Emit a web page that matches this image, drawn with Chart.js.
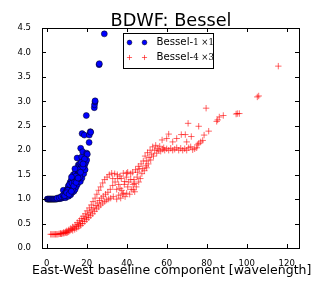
<!DOCTYPE html>
<html>
<head>
<meta charset="utf-8">
<script src="https://cdn.jsdelivr.net/npm/chart.js@4/dist/chart.umd.min.js"></script>
<style>
  body { margin: 0; background: #fff; }
  canvas { display: block; }
</style>
</head>
<body>
<canvas id="mycanvas" width="332" height="285"></canvas>
<script>
// Bessel-1 x1 (blue dots)
var bessel1 = [
  [0.3,1.0],[0.6,1.0],[1.0,1.0],[1.3,1.0],[1.7,1.0],[2.0,1.0],[2.4,1.0],[2.8,1.0],
  [3.2,1.0],[3.6,1.0],[4.0,1.0],[4.5,1.0],[5.0,1.0],[5.5,1.01],[6.0,1.01],[6.5,1.01],
  [7.0,1.02],[7.5,1.02],[8.0,1.03],[5.2,1.02],[6.3,1.03],[7.2,1.05],[8.2,1.08],[8.3,1.18],
  [8.8,1.04],[9.2,1.12],[9.5,1.03],[10,1.06],[10.2,1.2],[10.5,1.1],[10.8,1.27],[11,1.06],
  [11,1.16],[11.3,1.22],[11.6,1.12],[11.7,1.34],[12,1.09],[12,1.27],[12.2,1.38],[12.5,1.19],
  [12.8,1.14],[13,1.31],[13.2,1.23],[13.3,1.5],[13.4,1.4],[13.6,1.16],[13.8,1.45],[14,1.28],
  [14.2,1.2],[14.3,1.53],[14.5,1.37],[14.8,1.26],[15,1.45],[15.1,1.62],[15.2,1.84],[15.4,1.31],
  [15.6,1.5],[15.8,1.58],[15.8,1.7],[16,1.38],[16.2,1.68],[16.3,1.45],[16.5,1.55],[16.7,1.73],
  [16.8,1.36],[17,2.04],[17,1.62],[17.2,1.48],[17.5,1.68],[17.5,1.86],[17.6,1.43],[17.8,1.55],
  [18,1.97],[18.3,1.77],[18.5,1.52],[18.7,1.63],[19,1.7],[19.2,1.6],[19.5,1.75],[20,1.94],
  [20,1.8],[20.3,1.92],[21.2,2.16],[17.7,2.34],[18.8,2.31],[21.3,2.31],[21.8,2.38],[22,2.37],
  [19.8,2.71],[23.8,2.87],[23.9,2.93],[24.2,2.99],[24.2,3.01],[26.2,3.75],[26.3,3.77],[28.8,4.38],
  [9.0,1.07],[9.8,1.15],[10.6,1.18],[11.4,1.3],[12.6,1.33],[13.0,1.2],[13.9,1.35],[14.6,1.47],
  [15.3,1.4],[16.0,1.6],[16.6,1.45],[17.3,1.75],[18.1,1.65],[18.9,1.82],[14.1,1.62],[12.4,1.45],
  [10.0,1.13],[11.2,1.1],[12.3,1.16],[13.5,1.27],[14.7,1.34],[15.7,1.43],[16.9,1.55],[18.2,1.72]
];

// Bessel-4 x3 (red crosses)
var bessel4 = [
  [2,0.28],[2.6,0.28],[3.2,0.28],[3.8,0.28],[4.4,0.28],[5,0.28],[5.6,0.28],[6.2,0.29],
  [6.8,0.29],[7.4,0.29],[8,0.3],[8.6,0.3],[9.2,0.31],[9.8,0.31],[10.4,0.32],[11,0.33],
  [7,0.3],[8.5,0.32],[9.5,0.33],[10,0.35],[11,0.37],[11.6,0.35],[12,0.4],[12.5,0.38],
  [13,0.36],[13,0.43],[13.6,0.41],[14,0.38],[14.2,0.47],[14.8,0.44],[15,0.4],[15.3,0.52],
  [15.8,0.48],[16,0.43],[16.4,0.56],[16.8,0.5],[17,0.46],[17.3,0.6],[17.8,0.55],[18,0.5],
  [18.2,0.65],[18.8,0.6],[19,0.54],[19.3,0.7],[19.8,0.63],[20,0.58],[20.2,0.76],[20.7,0.68],
  [21,0.62],[21.3,0.82],[21.7,0.73],[22,0.66],[22.3,0.88],[22.6,0.78],[23,0.7],[23.2,0.95],
  [23.6,0.82],[24,0.75],[24.2,1.02],[24.6,0.87],[25,0.8],[25.1,1.1],[25.5,0.92],[26,0.84],
  [26,1.18],[26.4,0.97],[27,0.88],[27,1.25],[27.3,1.02],[28,0.92],[28,1.33],[28.3,1.06],
  [29,0.95],[29,1.4],[29.4,1.1],[30,0.98],[30.2,1.45],[30.6,1.14],[31,1.0],[31.3,1.5],
  [31.8,1.2],[32,1.02],[32.5,1.53],[33,1.28],[33,1.42],[33.3,1.05],[34,1.52],[34.2,1.35],
  [35,1.0],[35,1.2],[35.3,1.5],[35.5,1.42],[36,1.08],[36,1.3],[36.6,1.47],[36.7,1.22],
  [37,1.02],[37.3,1.42],[37.5,1.18],[38,1.1],[38.3,1.53],[38.3,1.12],[38.8,1.3],[39,1.36],
  [39.2,1.05],[39.8,1.45],[40,1.12],[40,1.53],[40.5,1.25],[40.5,1.55],[41,1.35],[41.5,1.1],
  [42,1.52],[42,1.4],[42.3,1.2],[43,1.55],[43.2,1.3],[43.3,1.19],[43.6,1.4],[44,1.15],
  [44,1.32],[44.4,1.6],[44.8,1.25],[45.2,1.45],[45.5,1.55],[45.8,1.67],[46,1.35],[46.3,1.62],
  [46.8,1.42],[47.2,1.72],[47.6,1.52],[48,1.62],[48.3,1.78],[48.8,1.58],[49.2,1.88],[49.6,1.68],
  [50,1.78],[50,1.64],[50.4,1.95],[50.8,1.72],[51.2,1.85],[51.7,2.0],[52,1.8],[52.5,1.92],
  [53,2.07],[53.4,1.88],[54,2.0],[54.5,2.1],[55,1.94],[55.3,2.03],[56,2.0],[56.5,2.08],
  [57,1.98],[57.7,2.21],[58,2.02],[58.5,2.05],[59,2.0],[60,2.24],[60,2.03],[61,2.33],
  [61,2.0],[62,2.04],[63,2.17],[63,2.0],[64,2.02],[65,2.24],[65,2.05],[66,2.0],
  [67,2.04],[67.3,2.32],[68,2.0],[69,2.03],[69.3,2.32],[70,2.17],[70,2.0],[70.7,2.55],
  [71,2.05],[72,2.07],[72.3,2.28],[73,2.01],[74,2.03],[75,2.05],[75.3,2.11],[76,2.14],
  [76,2.49],[77,2.17],[78,2.2],[78.7,2.31],[79.7,2.86],[81,2.39],[85,2.59],[85.5,2.62],
  [86.3,2.68],[88.3,2.71],[94.7,2.74],[95.3,2.75],[96.3,2.75],[105.3,3.09],[106,3.11],[115.8,3.72]
];

var xTicks = [0, 20, 40, 60, 80, 100, 120];
var yTicks = [0.0, 0.5, 1.0, 1.5, 2.0, 2.5, 3.0, 3.5, 4.0, 4.5];

var titleText = 'BDWF: Bessel';
var xLabel = 'East-West baseline component [wavelength]';

function toPoints(arr) {
    var out = [];
    for (var i in arr) out.push({x: arr[i][0], y: arr[i][1]});
    return out;
}

var blueStyle = {pointStyle: 'circle', radius: 3, backgroundColor: 'rgb(0,0,255)', borderColor: '#000', borderWidth: 0.5};
var redStyle = {pointStyle: 'cross', radius: 3.2, backgroundColor: 'rgba(255,0,0,0.6)', borderColor: 'rgba(255,0,0,0.6)', borderWidth: 1};

// frame, inward ticks, title, x label, legend
var decor = {
    id: 'decor',
    afterDraw: function(chart) {
        var c = chart.ctx;
        var a = chart.chartArea;
        var xs = chart.scales.x, ys = chart.scales.y;
        c.save();
        c.strokeStyle = '#000';
        c.lineWidth = 1;
        c.beginPath();
        for (var i in xTicks) {
            var px = Math.round(xs.getPixelForValue(xTicks[i])) + 0.5;
            c.moveTo(px, a.bottom); c.lineTo(px, a.bottom - 4);
            c.moveTo(px, a.top); c.lineTo(px, a.top + 4);
        }
        for (var j in yTicks) {
            var py = Math.round(ys.getPixelForValue(yTicks[j])) + 0.5;
            c.moveTo(a.left, py); c.lineTo(a.left + 4, py);
            c.moveTo(a.right, py); c.lineTo(a.right - 4, py);
        }
        c.stroke();
        c.strokeRect(a.left + 0.5, a.top + 0.5, a.right - a.left, a.bottom - a.top);

        c.fillStyle = '#000';
        c.textAlign = 'center';
        c.textBaseline = 'alphabetic';
        c.font = '17.7px "DejaVu Sans"';
        c.fillText(titleText, 171, 25.5);
        c.font = '12.5px "DejaVu Sans"';
        c.fillText(xLabel, 171.7, 274);

        // legend box
        var lx = 123, ly = 33, lw = 90, lh = 35;
        c.fillStyle = '#fff';
        c.fillRect(lx, ly, lw, lh);
        c.strokeStyle = '#000';
        c.strokeRect(lx + 0.5, ly + 0.5, lw, lh);
        var rows = [
            {y: 42.5, style: blueStyle, num: '1 \u00d71'},
            {y: 57.5, style: redStyle, num: '4 \u00d73'}
        ];
        for (var r in rows) {
            var s = rows[r].style;
            c.fillStyle = s.backgroundColor;
            c.strokeStyle = s.borderColor;
            c.lineWidth = s.borderWidth;
            Chart.helpers.drawPoint(c, {pointStyle: s.pointStyle, radius: s.radius * 0.8, borderWidth: s.borderWidth}, 129.5, rows[r].y);
            Chart.helpers.drawPoint(c, {pointStyle: s.pointStyle, radius: s.radius * 0.8, borderWidth: s.borderWidth}, 144.5, rows[r].y);
            c.fillStyle = '#000';
            c.textAlign = 'left';
            c.textBaseline = 'middle';
            c.font = '10.2px "DejaVu Sans"';
            c.fillText('Bessel-', 156.5, rows[r].y);
            var w = c.measureText('Bessel-').width;
            c.font = '8.5px "DejaVu Serif"';
            c.fillText(rows[r].num, 156.5 + w, rows[r].y + 0.5);
        }
        c.restore();
    }
};

var ctx = document.getElementById('mycanvas');

var scatter = new Chart(ctx, {
    type: 'scatter',
    data: {
        datasets: [
            {
                label: 'Bessel-1 x1',
                data: toPoints(bessel1),
                pointStyle: blueStyle.pointStyle,
                pointRadius: blueStyle.radius,
                pointBackgroundColor: blueStyle.backgroundColor,
                pointBorderColor: blueStyle.borderColor,
                pointBorderWidth: blueStyle.borderWidth
            },
            {
                label: 'Bessel-4 x3',
                data: toPoints(bessel4),
                pointStyle: redStyle.pointStyle,
                pointRadius: redStyle.radius,
                pointBackgroundColor: redStyle.backgroundColor,
                pointBorderColor: redStyle.borderColor,
                pointBorderWidth: redStyle.borderWidth
            }
        ]
    },
    options: {
        responsive: false,
        animation: false,
        layout: { padding: { top: 28, right: 33, left: 0, bottom: 0 } },
        plugins: {
            legend: { display: false },
            tooltip: { enabled: false },
            title: { display: false }
        },
        scales: {
            x: {
                type: 'linear',
                min: -2.35,
                max: 126.15,
                grid: { display: false },
                border: { display: false },
                afterBuildTicks: function(scale) {
                    scale.ticks = xTicks.map(function(v) { return {value: v}; });
                },
                afterFit: function(scale) { scale.height = 37; },
                ticks: {
                    color: '#000',
                    padding: 3,
                    maxRotation: 0,
                    font: { family: 'DejaVu Sans', size: 8.5 },
                    callback: function(v) { return String(v); }
                }
            },
            y: {
                type: 'linear',
                min: 0,
                max: 4.5,
                grid: { display: false },
                border: { display: false },
                afterBuildTicks: function(scale) {
                    scale.ticks = yTicks.map(function(v) { return {value: v}; });
                },
                afterFit: function(scale) { scale.width = 42; },
                ticks: {
                    color: '#000',
                    padding: 3,
                    font: { family: 'DejaVu Sans', size: 8.5 },
                    callback: function(v) { return Number(v).toFixed(1); }
                }
            }
        }
    },
    plugins: [decor]
});
</script>
</body>
</html>
